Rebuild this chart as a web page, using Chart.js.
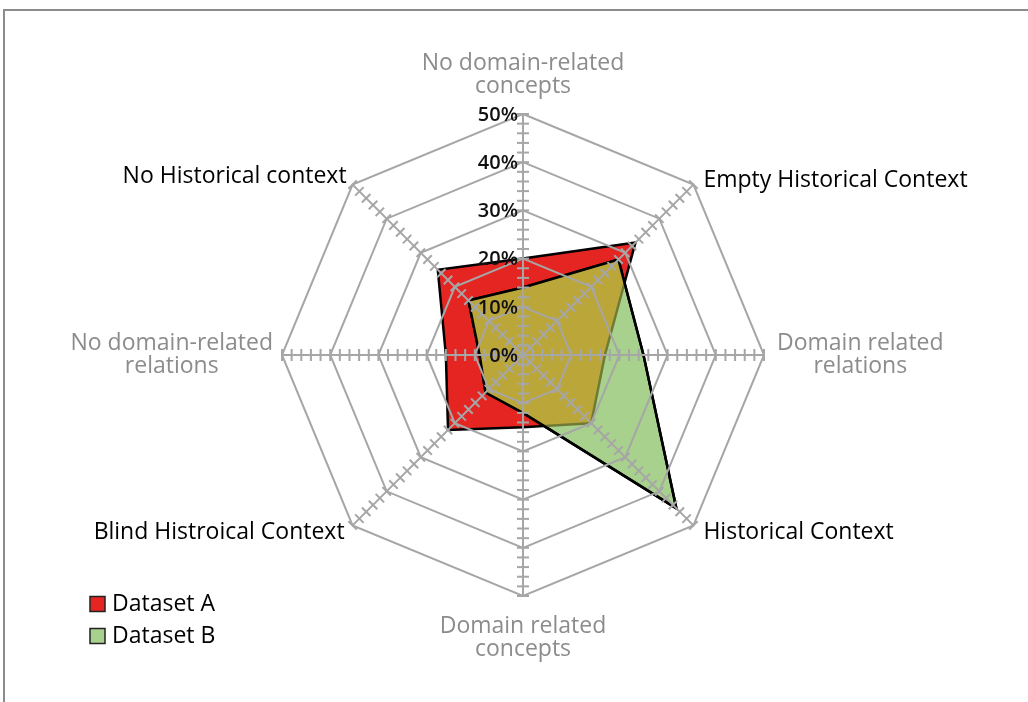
<!DOCTYPE html>
<html>
<head>
<meta charset="utf-8">
<script src="https://cdn.jsdelivr.net/npm/chart.js@4.4.0/dist/chart.umd.min.js"></script>
<style>
  body { margin: 0; background: #fff; }
  #frame { position: absolute; left: 3px; top: 9px; width: 1100px; height: 800px;
           border-left: 2px solid #8c8c8c; border-top: 2px solid #8c8c8c; }
  #myChart { position: absolute; left: 0; top: 0; }
</style>
</head>
<body>
<div id="frame"></div>
<canvas id="myChart" width="1028" height="702"></canvas>
<script>
const ctx = document.getElementById('myChart');

// axes, clockwise from the top
const categories = [
  ['No domain-related', 'concepts'],
  ['Empty Historical Context'],
  ['Domain related', 'relations'],
  ['Historical Context'],
  ['Domain related', 'concepts'],
  ['Blind Histroical Context'],
  ['No domain-related', 'relations'],
  ['No Historical context']
];
const seriesNames = ['Dataset A', 'Dataset B'];
const datasetA = [20, 33, 17, 20, 15, 22, 16, 25];
const datasetB = [14, 28, 25, 45, 12, 11, 9, 16];
const tickValues = [0, 10, 20, 30, 40, 50];
const tickLabels = ['0%', '10%', '20%', '30%', '40%', '50%'];

const FONT = '"Open Sans", sans-serif';
const gridGray = '#a6a6a6';
const redFill = '#e52521';
const greenFill = '#a9d18e';
const olive = '#bba63a';
const labelGray = '#8c8c8c';

function polyPath(c, meta) {
  c.beginPath();
  meta.data.forEach((pt, i) => {
    if (i === 0) c.moveTo(pt.x, pt.y); else c.lineTo(pt.x, pt.y);
  });
  c.closePath();
}

// overlap of the two areas gets its own colour
const overlapPlugin = {
  id: 'overlap',
  afterDatasetsDraw(chart) {
    const c = chart.ctx;
    const a = chart.getDatasetMeta(0);
    const b = chart.getDatasetMeta(1);
    c.save();
    polyPath(c, a); c.clip();
    polyPath(c, b); c.fillStyle = olive; c.fill();
    c.restore();
    c.save();
    polyPath(c, b); c.clip();
    polyPath(c, a); c.strokeStyle = '#6f7a35'; c.lineWidth = 2.5; c.lineJoin = 'round'; c.stroke();
    c.restore();
    c.save();
    polyPath(c, b); c.strokeStyle = '#000'; c.lineWidth = 2.5; c.lineJoin = 'round'; c.stroke();
    c.restore();
  }
};

// minor tick crosses on spokes, tick labels, axis labels, legend
const decorPlugin = {
  id: 'decor',
  afterDraw(chart) {
    const c = chart.ctx;
    const scale = chart.scales.r;
    const n = categories.length;
    c.save();
    c.strokeStyle = gridGray;
    c.lineWidth = 2;
    for (let i = 0; i < n; i++) {
      const ang = scale.getIndexAngle(i) - Math.PI / 2;
      const px = -Math.sin(ang), py = Math.cos(ang);
      for (let v = 2; v <= 50; v += 2) {
        const p = scale.getPointPosition(i, scale.getDistanceFromCenterForValue(v));
        c.beginPath();
        c.moveTo(p.x - px * 6, p.y - py * 6);
        c.lineTo(p.x + px * 6, p.y + py * 6);
        c.stroke();
      }
    }
    c.restore();

    // tick labels left of the top spoke
    c.save();
    c.font = '600 20px ' + FONT;
    c.fillStyle = '#111';
    c.textAlign = 'right';
    c.textBaseline = 'middle';
    tickValues.forEach((v, k) => {
      const y = scale.yCenter - scale.getDistanceFromCenterForValue(v);
      c.fillText(tickLabels[k], scale.xCenter - 5, y + 1);
    });
    c.restore();

    // axis labels
    const R = scale.drawingArea;
    const lh = 23;
    c.save();
    c.font = '23px ' + FONT;
    c.textBaseline = 'middle';
    categories.forEach((lines, i) => {
      c.fillStyle = (i % 2 === 0) ? labelGray : '#000';
      const widths = lines.map(t => c.measureText(t).width);
      const bw = Math.max(...widths);
      if (i === 0) {
        const p = scale.getPointPosition(i, R + 28);
        c.textAlign = 'center';
        lines.forEach((t, k) => c.fillText(t, p.x, p.y - (lines.length - 1 - k) * lh));
      } else if (i === 4) {
        const p = scale.getPointPosition(i, R + 30);
        c.textAlign = 'center';
        lines.forEach((t, k) => c.fillText(t, p.x, p.y + k * lh));
      } else if (i === 2) {
        const p = scale.getPointPosition(i, R + 13);
        c.textAlign = 'center';
        lines.forEach((t, k) => c.fillText(t, p.x + bw / 2, p.y + (k - (lines.length - 1) / 2) * lh));
      } else if (i === 6) {
        const p = scale.getPointPosition(i, R + 9);
        c.textAlign = 'center';
        lines.forEach((t, k) => c.fillText(t, p.x - bw / 2, p.y + (k - (lines.length - 1) / 2) * lh));
      } else {
        const p = scale.getPointPosition(i, R);
        const off = { 1: [10, -4], 3: [10, 7], 5: [-8, 7], 7: [-6, -8] }[i];
        c.textAlign = off[0] > 0 ? 'left' : 'right';
        c.fillText(lines[0], p.x + off[0], p.y + off[1]);
      }
    });
    c.restore();

    // legend
    c.save();
    c.font = '23px ' + FONT;
    c.textBaseline = 'middle';
    c.textAlign = 'left';
    chart.data.datasets.forEach((ds, k) => {
      const y = 604 + k * 32;
      c.fillStyle = ds.backgroundColor;
      c.fillRect(90, y - 7.5, 15, 15);
      c.strokeStyle = '#222';
      c.lineWidth = 1.5;
      c.strokeRect(90, y - 7.5, 15, 15);
      c.fillStyle = '#000';
      c.fillText(ds.label, 112, y);
    });
    c.restore();
  }
};

new Chart(ctx, {
  type: 'radar',
  data: {
    labels: categories,
    datasets: [{
      label: seriesNames[0],
      data: datasetA,
      backgroundColor: redFill,
      borderColor: '#000',
      borderWidth: 2.5,
      pointRadius: 0,
      order: 1
    }, {
      label: seriesNames[1],
      data: datasetB,
      backgroundColor: greenFill,
      borderColor: '#000',
      borderWidth: 2.5,
      pointRadius: 0,
      order: 0
    }]
  },
  options: {
    responsive: false,
    animation: false,
    devicePixelRatio: 1,
    layout: { padding: { left: 282, top: 114, right: 264, bottom: 106 } },
    plugins: { legend: { display: false }, tooltip: { enabled: false } },
    elements: { line: { tension: 0 } },
    scales: {
      r: {
        min: 0,
        max: 50,
        ticks: { display: false, stepSize: 10, z: 1 },
        pointLabels: { display: false },
        grid: { color: gridGray, lineWidth: 2, z: 1 },
        angleLines: { color: gridGray, lineWidth: 2 },
        border: { z: 1 }
      }
    }
  },
  plugins: [overlapPlugin, decorPlugin]
});
</script>
</body>
</html>
